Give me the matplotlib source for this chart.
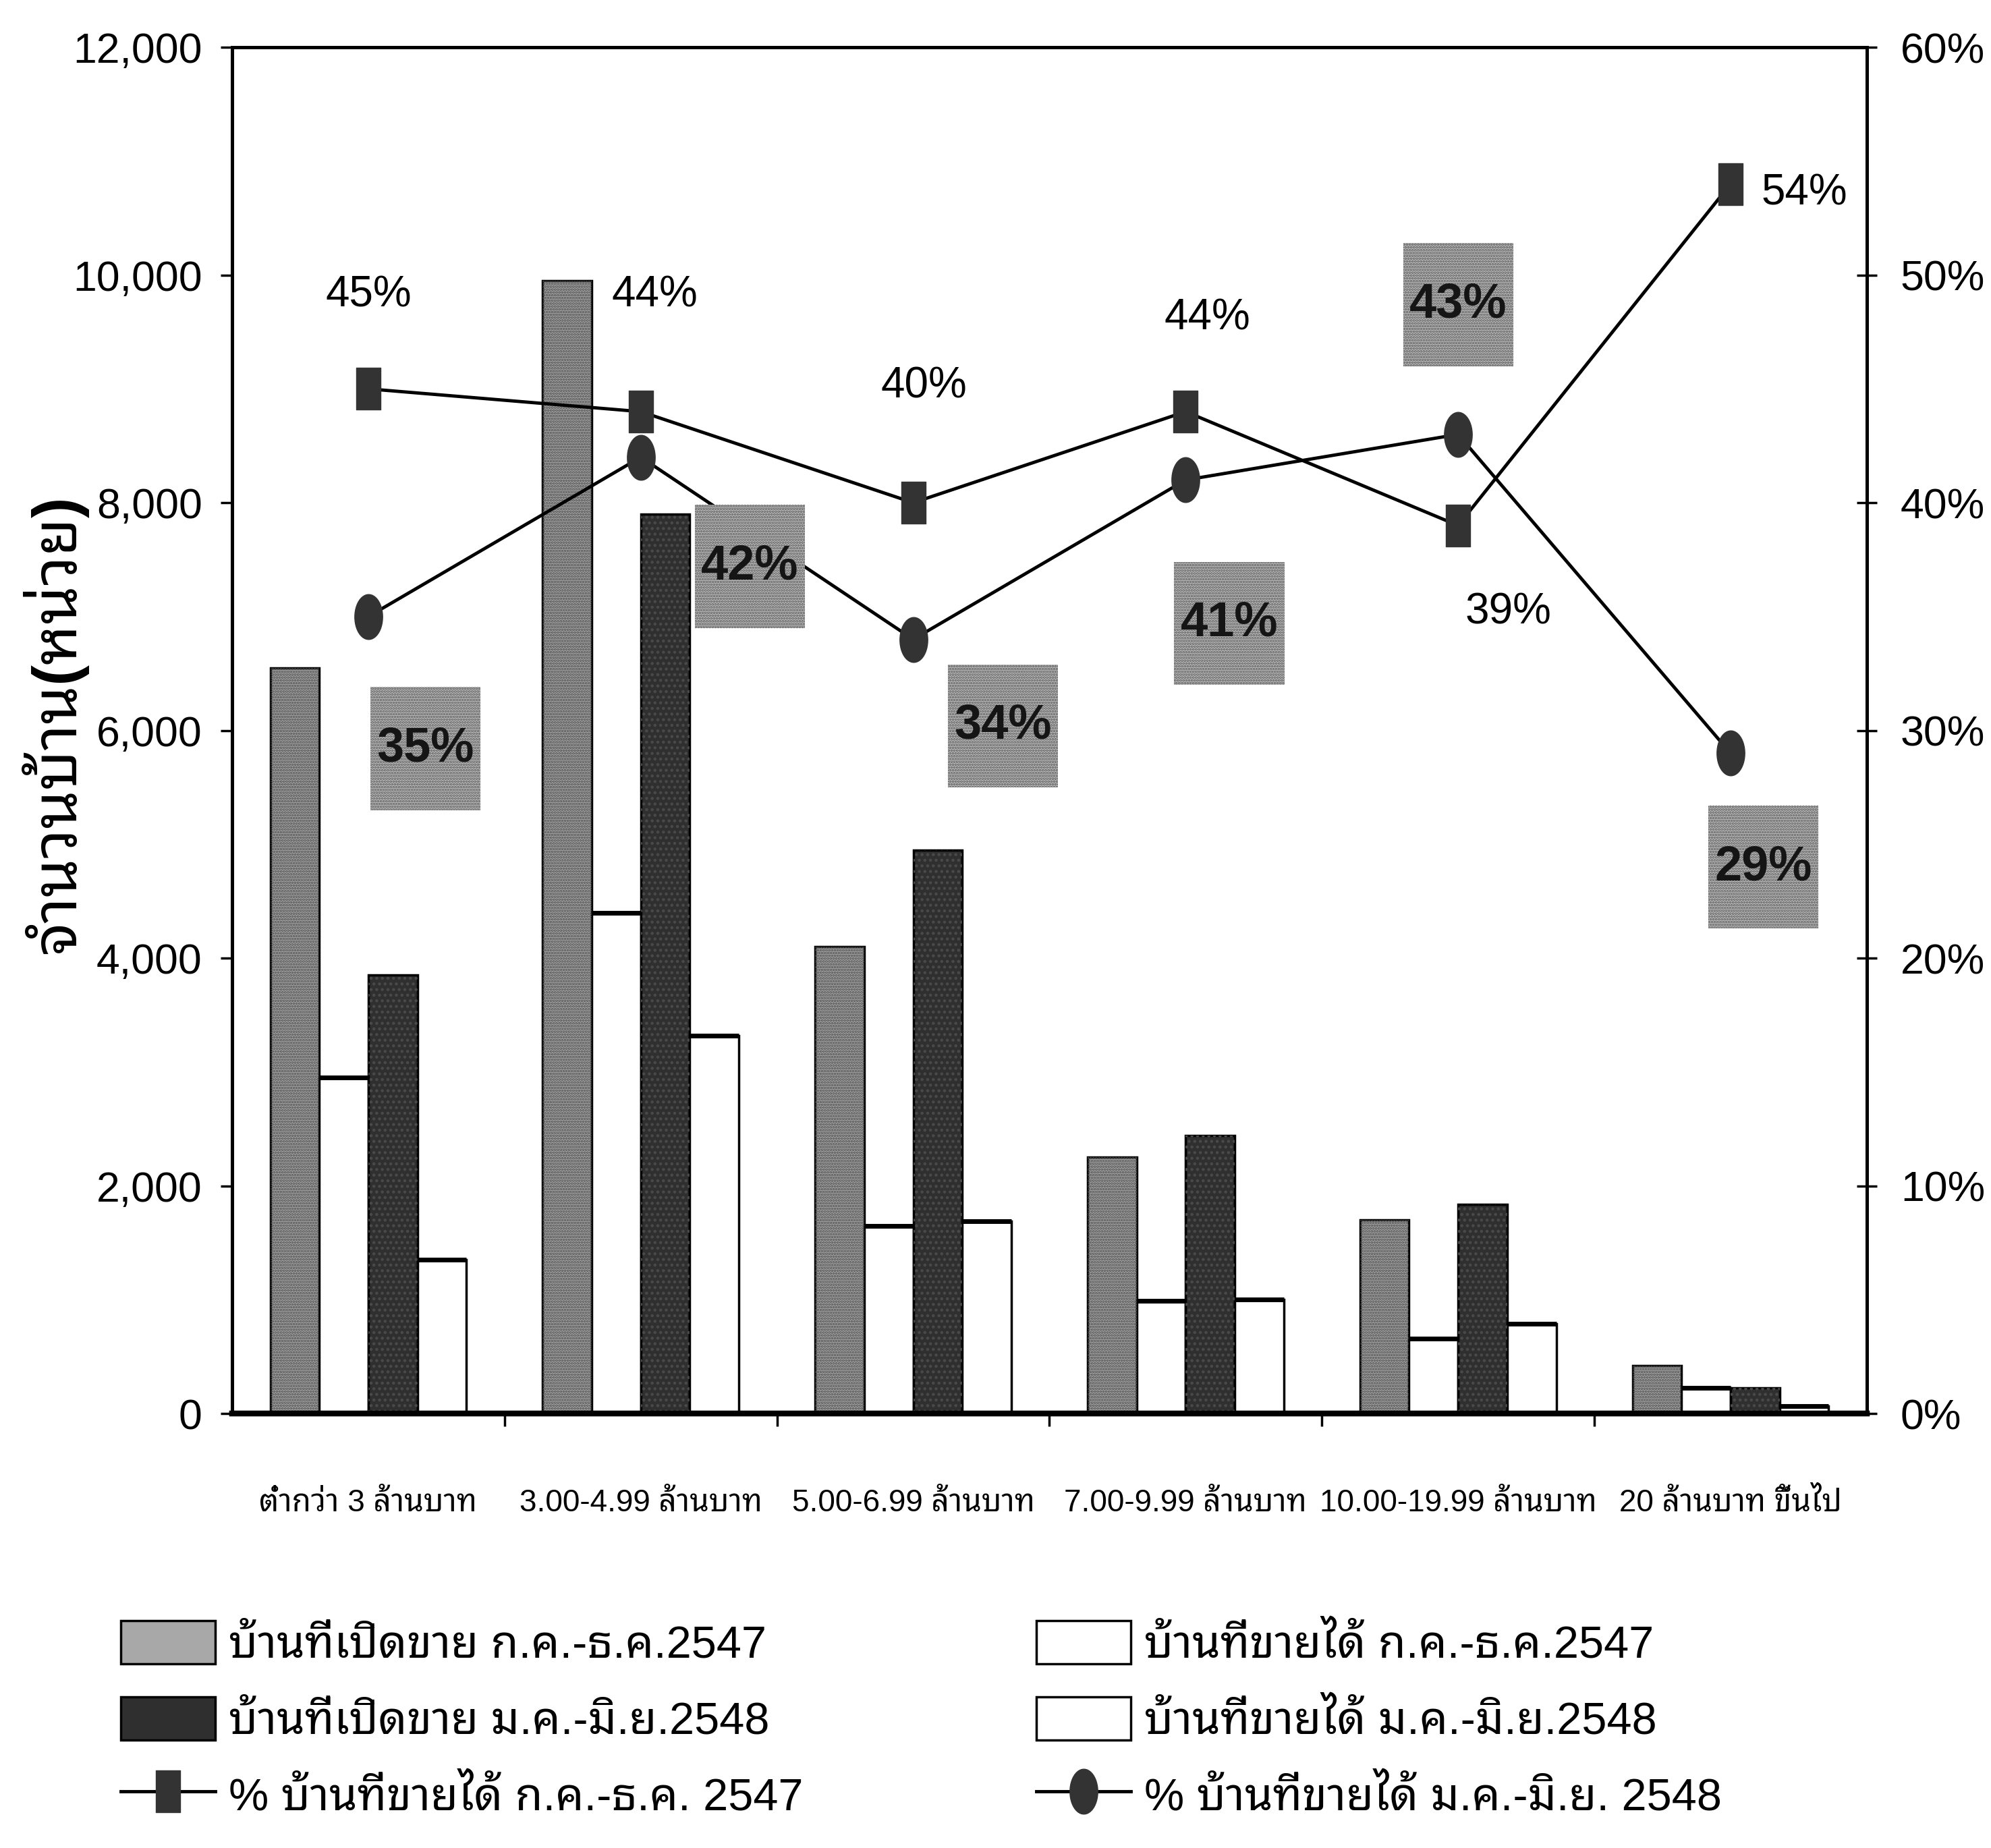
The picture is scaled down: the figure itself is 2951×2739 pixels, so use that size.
import numpy as np
import matplotlib
matplotlib.use("Agg")
import matplotlib.pyplot as plt
from matplotlib import font_manager
from matplotlib.ft2font import FT2Font
from matplotlib.path import Path
from matplotlib.patches import Rectangle
from matplotlib.ticker import FixedLocator, FuncFormatter

# price bands (million baht)
categories = ["ต่ำกว่า 3 ล้านบาท", "3.00-4.99 ล้านบาท", "5.00-6.99 ล้านบาท",
              "7.00-9.99 ล้านบาท", "10.00-19.99 ล้านบาท", "20 ล้านบาท ขึ้นไป"]

# units offered / sold, Jul-Dec 2004 (2547) and Jan-Jun 2005 (2548)
offered_2547 = [6550, 9950, 4100, 2250, 1700, 420]
sold_2547 = [2950, 4400, 1650, 990, 660, 225]
offered_2548 = [3850, 7900, 4950, 2440, 1840, 225]
sold_2548 = [1350, 3320, 1690, 1000, 790, 65]

# share of offered units that were sold (%)
pct_sold_2547 = [45, 44, 40, 44, 39, 54]
pct_sold_2548 = [35, 42, 34, 41, 43, 29]

series_names = ["บ้านที่เปิดขาย ก.ค.-ธ.ค.2547", "บ้านที่ขายได้ ก.ค.-ธ.ค.2547",
                "บ้านที่เปิดขาย ม.ค.-มิ.ย.2548", "บ้านที่ขายได้ ม.ค.-มิ.ย.2548",
                "% บ้านที่ขายได้ ก.ค.-ธ.ค. 2547", "% บ้านที่ขายได้ ม.ค.-มิ.ย. 2548"]
y_title = "จำนวนบ้าน(หน่วย)"

# label offsets (category units, percent points) from each marker
off_2547 = [(0.0, 4.1), (0.05, 5.1), (0.04, 5.1), (0.08, 4.1), (0.185, -3.8), (0.27, -0.4)]
off_2548 = [(0.21, -5.8), (0.40, -4.8), (0.33, -3.8), (0.16, -6.3), (0.0, 5.7), (0.12, -5.0)]


def find_thai_family():
    found = []
    for f in font_manager.fontManager.ttflist:
        try:
            if FT2Font(f.fname).get_char_index(0x0E01):
                found.append(f.name)
        except Exception:
            pass
    for pref in ["Noto Sans Thai Looped", "Loma", "Tlwg Typo", "Garuda",
                 "Noto Sans Thai", "Noto Sans Thai UI", "Kinnari", "Norasi"]:
        if pref in found:
            return pref
    return found[0] if found else "DejaVu Sans"


installed = {f.name for f in font_manager.fontManager.ttflist}
latin = "Liberation Sans Narrow" if "Liberation Sans Narrow" in installed else "Liberation Sans"
thai = find_thai_family()
fam = [latin, thai, "DejaVu Sans"]
plt.rcParams["font.family"] = fam
plt.rcParams["hatch.linewidth"] = 2.0

fig = plt.figure(figsize=(29.51, 27.39), dpi=100)
ax = fig.add_axes([0.1166, 0.2351, 0.821, 0.7393])
ax2 = ax.twinx()

x = np.arange(len(categories))
w = 0.18
shift = [-1.5, -0.5, 0.5, 1.5]

b1 = ax.bar(x + shift[0] * w, offered_2547, w, color="#a8a8a8", edgecolor="black", lw=2.5,
            label=series_names[0], zorder=2)
ax.bar(x + shift[0] * w, offered_2547, w, color="none", edgecolor="#4f4f4f", hatch="....",
       lw=0, zorder=3)
b2 = ax.bar(x + shift[1] * w, sold_2547, w, color="white", edgecolor="black", lw=2.5,
            label=series_names[1], zorder=2)
b3 = ax.bar(x + shift[2] * w, offered_2548, w, color="#2f2f2f", edgecolor="black", lw=2.5,
            label=series_names[2], zorder=2)
ax.bar(x + shift[2] * w, offered_2548, w, color="none", edgecolor="#4a4a4a", hatch="..",
       lw=0, zorder=3)
b4 = ax.bar(x + shift[3] * w, sold_2548, w, color="white", edgecolor="black", lw=2.5,
            label=series_names[3], zorder=2)
# heavier top edge on the sold-unit bars
for bars in (b2, b4):
    for r in bars:
        ax.plot([r.get_x(), r.get_x() + r.get_width()], [r.get_height()] * 2,
                color="black", lw=5, solid_capstyle="butt", zorder=3)

# tall markers
rect = Path([(-0.6, -1), (0.6, -1), (0.6, 1), (-0.6, 1), (-0.6, -1)], closed=True)
t = np.linspace(0, 2 * np.pi, 48)
oval = Path(np.column_stack([0.62 * np.cos(t), np.sin(t)]), closed=True)

l1, = ax2.plot(x, pct_sold_2547, color="black", lw=3.5, marker=rect, ms=44,
               mfc="#333333", mec="#333333", label=series_names[4], zorder=4)
l2, = ax2.plot(x, pct_sold_2548, color="black", lw=3.5, marker=oval, ms=48,
               mfc="#333333", mec="#333333", label=series_names[5], zorder=4)

for i, v in enumerate(pct_sold_2547):
    dx, dy = off_2547[i]
    ax2.text(i + dx, v + dy, f"{v}%", ha="center", va="center", fontsize=46, zorder=5)

box_w, box_h = 0.404, 5.4
for i, v in enumerate(pct_sold_2548):
    dx, dy = off_2548[i]
    cx, cy = i + dx, v + dy
    ax2.add_patch(Rectangle((cx - box_w / 2, cy - box_h / 2), box_w, box_h,
                            facecolor="#c2c2c2", edgecolor="#5a5a5a", hatch="....",
                            lw=0, zorder=5))
    ax2.text(cx, cy, f"{v}%", ha="center", va="center", fontsize=52,
             fontweight="bold", color="#151515", zorder=6)

# axes limits and ticks
ax.set_xlim(-0.5, len(categories) - 0.5)
ax.set_ylim(0, 12000)
ax2.set_ylim(0, 60)
ax.set_yticks(np.arange(0, 12001, 2000))
ax.yaxis.set_major_formatter(FuncFormatter(lambda v, p: f"{int(v):,}"))
ax2.set_yticks(np.arange(0, 61, 10))
ax2.yaxis.set_major_formatter(FuncFormatter(lambda v, p: f"{int(v)}%"))

ax.set_xticks(x)
ax.set_xticklabels(categories, fontsize=33)
ax.xaxis.set_minor_locator(FixedLocator(x[:-1] + 0.5))
ax.tick_params(axis="x", which="major", length=0, pad=80)
ax.tick_params(axis="x", which="minor", length=14, width=2.5, direction="out")
ax.tick_params(axis="y", labelsize=45, length=12, width=2.5, direction="out", pad=20)
ax2.tick_params(axis="y", labelsize=45, length=22, width=2.5, direction="inout", pad=25)

for a in (ax, ax2):
    for s in a.spines.values():
        s.set_linewidth(3.5)
    a.spines["bottom"].set_linewidth(6)

fig.text(0.027, 0.608, y_title, rotation=90, ha="center", va="center",
         fontsize=66, fontweight="bold", family=fam)

leg_kw = dict(loc="upper left", frameon=False, fontsize=48, handlelength=2.1,
              handleheight=1.1, handletextpad=0.3, labelspacing=0.66,
              borderpad=0, borderaxespad=0)
fig.legend([b1, b3, l1], [series_names[0], series_names[2], series_names[4]],
           bbox_to_anchor=(0.0606, 0.123), **leg_kw)
fig.legend([b2, b4, l2], [series_names[1], series_names[3], series_names[5]],
           bbox_to_anchor=(0.5205, 0.123), **leg_kw)

fig.savefig("out.png", dpi=100)
